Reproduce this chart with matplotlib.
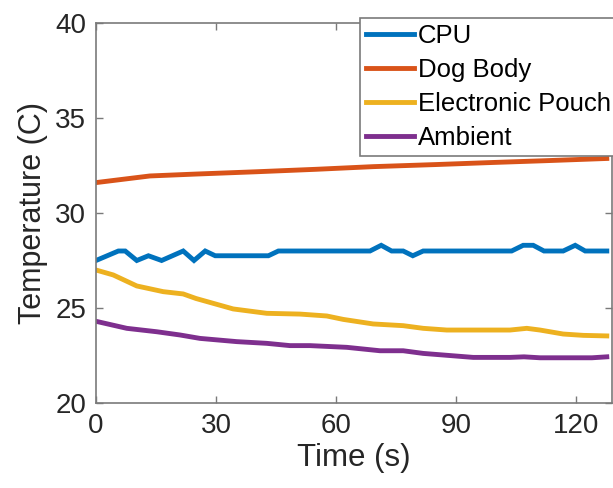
import matplotlib.pyplot as plt

plt.rcParams['font.family'] = ['Liberation Sans', 'DejaVu Sans']

# CPU temperature
cpu_t = [0, 5.6, 7.3, 10.2, 13.1, 16.4, 21.8, 24.5, 27.3, 29.8, 43.1, 45.6,
         68.5, 71.3, 73.9, 76.8, 79.2, 81.8, 103.9, 106.8, 109.3, 112.0,
         116.8, 119.8, 122.3, 127.7]
cpu_v = [27.5, 28.0, 28.0, 27.5, 27.75, 27.5, 28.0, 27.5, 28.0, 27.75, 27.75, 28.0,
         28.0, 28.3, 28.0, 28.0, 27.75, 28.0, 28.0, 28.3, 28.3, 28.0,
         28.0, 28.3, 28.0, 28.0]

# dog body temperature
dog_t = [0, 13.5, 25, 40, 55, 69.3, 85, 98, 112, 127.7]
dog_v = [31.6, 31.95, 32.05, 32.17, 32.3, 32.44, 32.55, 32.65, 32.75, 32.87]

# electronic pouch temperature
pouch_t = [0, 4.3, 10.2, 16.8, 21.8, 25.0, 34.3, 42.7, 51.0, 57.7, 61.8, 69.3,
           76.8, 81.8, 87.7, 103.5, 107.7, 111.0, 116.8, 121.8, 127.7]
pouch_v = [27.0, 26.74, 26.16, 25.86, 25.74, 25.5, 24.95, 24.72, 24.68, 24.58, 24.4, 24.16,
           24.07, 23.93, 23.84, 23.84, 23.93, 23.84, 23.63, 23.56, 23.53]

# ambient temperature
amb_t = [0, 7.7, 15.2, 21.0, 26.0, 35.2, 42.7, 48.5, 53.5, 62.7, 71.0, 76.8,
         81.8, 94.3, 103.5, 107.0, 111.0, 124.0, 127.7]
amb_v = [24.3, 23.93, 23.75, 23.58, 23.4, 23.23, 23.14, 23.02, 23.02, 22.93, 22.75, 22.75,
         22.61, 22.4, 22.4, 22.43, 22.38, 22.38, 22.43]

labels = ['CPU', 'Dog Body', 'Electronic Pouch', 'Ambient']
colors = ['#0072BD', '#D95319', '#EDB120', '#7E2F8E']

fig = plt.figure(figsize=(6.13, 4.88), dpi=100)
ax = fig.add_axes([96/613, 85/488, 516/613, 380/488])

series = [(cpu_t, cpu_v), (dog_t, dog_v), (pouch_t, pouch_v), (amb_t, amb_v)]
for (t, v), lab, col in zip(series, labels, colors):
    ax.plot(t, v, color=col, lw=3.5, label=lab, solid_joinstyle='miter')

ax.set_xlim(0, 129)
ax.set_ylim(20, 40)
ax.set_xticks([0, 30, 60, 90, 120])
ax.set_yticks([20, 25, 30, 35, 40])

for s in ax.spines.values():
    s.set_color('#7a7a7a')
    s.set_linewidth(1.2)
ax.tick_params(direction='in', length=5, width=1, color='#7a7a7a',
               labelsize=20, labelcolor='#262626', top=True, right=True, pad=7)

ax.set_xlabel('Time (s)', fontsize=22.5, color='#262626', labelpad=3)
ax.set_ylabel('Temperature (C)', fontsize=22, color='#262626', labelpad=5)

leg = ax.legend(loc='upper left', bbox_to_anchor=(360/613, 1 - 18/488),
                bbox_transform=fig.transFigure, fontsize=18.5, frameon=True,
                fancybox=False, framealpha=1, edgecolor='#7a7a7a',
                handlelength=1.85, handletextpad=0.15, labelspacing=0.38,
                borderpad=0.25, borderaxespad=0)
leg.get_frame().set_linewidth(1.2)
for txt in leg.get_texts():
    txt.set_color('black')

fig.savefig('out.png', dpi=100)
